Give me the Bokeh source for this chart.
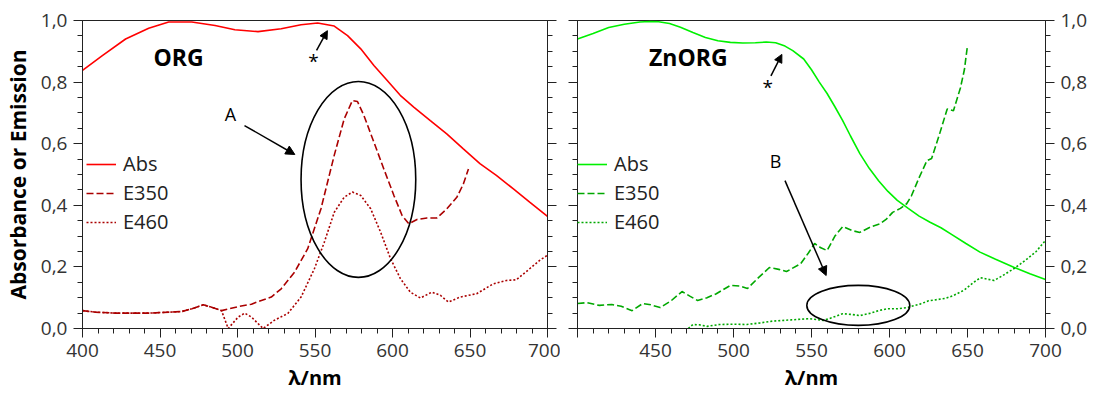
from bokeh.plotting import figure
from bokeh.layouts import row
from bokeh.models import (FixedTicker, CustomJSTickFormatter, LinearAxis, Range1d,
                          Label, Arrow, NormalHead)
from bokeh.embed import file_html
from bokeh.resources import INLINE

# ---------------- data ----------------
# ORG panel
org_abs_x = [400, 412.8, 427.8, 442.7, 455.6, 470.5, 485.5, 498.3, 513.2, 528.2, 541, 551.7,
             562.4, 571, 579.5, 588, 596.6, 605, 613.7, 624.4, 635, 645.7, 656.4, 667, 677.8,
             688.5, 700]
org_abs_y = [0.838, 0.886, 0.94, 0.975, 0.995, 0.995, 0.984, 0.97, 0.964, 0.973, 0.986, 0.992,
             0.982, 0.951, 0.908, 0.854, 0.805, 0.757, 0.719, 0.675, 0.632, 0.583, 0.535, 0.497,
             0.454, 0.41, 0.364]

org_e350_x = [400, 408.5, 421.4, 442.7, 464, 470.5, 478, 483.3, 489.7, 500.4, 509, 515.4, 521.8,
              528.2, 536.8, 545.3, 553.8, 562.4, 568.8, 574.1, 577.4, 581.6, 588, 594.4, 600.9,
              606.2, 610.5, 615.8, 622.2, 628.6, 635, 641.5, 645.7, 649]
org_e350_y = [0.058, 0.053, 0.05, 0.05, 0.055, 0.064, 0.077, 0.069, 0.058, 0.071, 0.079, 0.091,
              0.102, 0.129, 0.183, 0.259, 0.388, 0.562, 0.68, 0.74, 0.737, 0.691, 0.605, 0.518,
              0.432, 0.367, 0.34, 0.354, 0.359, 0.359, 0.388, 0.426, 0.469, 0.518]

org_e460_x = [400, 408.5, 421.4, 442.7, 464, 470.5, 478, 483.3, 489.7, 494, 500.4, 504.7, 509,
              516.5, 523.9, 532.5, 541, 549.6, 556, 562.4, 568.8, 574.1, 579.5, 585.9, 592.3,
              598.7, 605.1, 611.5, 618, 625.4, 630.8, 636.1, 643.6, 654.3, 665, 673.5, 679.9,
              688.5, 694.9, 700]
org_e460_y = [0.058, 0.053, 0.05, 0.05, 0.055, 0.064, 0.077, 0.069, 0.058, 0.0, 0.037, 0.05,
              0.037, 0.0, 0.027, 0.049, 0.102, 0.194, 0.28, 0.377, 0.426, 0.443, 0.432, 0.389,
              0.313, 0.227, 0.162, 0.118, 0.099, 0.118, 0.108, 0.086, 0.102, 0.113, 0.145,
              0.156, 0.158, 0.194, 0.221, 0.238]

# ZnORG panel
zn_abs_x = [400, 410, 420, 430, 440, 446, 452, 459, 466, 474, 482, 490, 498, 506, 514, 521,
            527, 533, 538, 545, 550, 555, 560, 565, 570, 575, 581, 587, 593, 599, 605, 612,
            619, 626, 633, 640, 649, 658, 668, 680, 690, 700]
zn_abs_y = [0.94, 0.958, 0.977, 0.988, 0.995, 0.997, 0.996, 0.99, 0.978, 0.961, 0.945, 0.934,
            0.929, 0.927, 0.928, 0.93, 0.928, 0.917, 0.902, 0.875, 0.84, 0.8, 0.763, 0.72,
            0.675, 0.625, 0.568, 0.52, 0.48, 0.445, 0.416, 0.39, 0.365, 0.345, 0.327, 0.305,
            0.276, 0.248, 0.225, 0.198, 0.178, 0.159]

zn_e350_x = [400, 406, 414, 422, 428, 435, 441.8, 447, 453, 460, 467, 472, 477, 483, 489, 498,
             504, 509, 516, 523, 529, 534, 543, 548, 552, 556, 560, 565, 570, 576, 581, 588,
             594, 598, 602, 607, 611, 614, 619, 624, 627, 632, 637, 641, 645.5, 648, 650]
zn_e350_y = [0.081, 0.084, 0.075, 0.078, 0.072, 0.058, 0.081, 0.077, 0.068, 0.09, 0.12, 0.105,
             0.091, 0.1, 0.113, 0.14, 0.138, 0.13, 0.165, 0.198, 0.192, 0.185, 0.21, 0.245,
             0.276, 0.262, 0.253, 0.3, 0.331, 0.318, 0.312, 0.33, 0.34, 0.355, 0.377, 0.39,
             0.405, 0.43, 0.49, 0.545, 0.552, 0.63, 0.713, 0.707, 0.782, 0.84, 0.919]

zn_e460_x = [471, 474, 478, 483, 491, 500, 508.6, 517, 525, 537, 549, 557.5, 563, 570, 575, 581,
             588, 593, 598.6, 605, 611.4, 620, 625, 630.7, 636, 641, 648, 654, 658.4, 663, 667,
             672, 679.6, 684, 688.5, 694, 700]
zn_e460_y = [0.0, 0.013, 0.012, 0.007, 0.013, 0.014, 0.013, 0.018, 0.024, 0.028, 0.032, 0.026,
             0.035, 0.048, 0.046, 0.042, 0.05, 0.058, 0.064, 0.064, 0.068, 0.08, 0.09, 0.094,
             0.098, 0.107, 0.125, 0.15, 0.165, 0.16, 0.156, 0.17, 0.194, 0.21, 0.227, 0.25, 0.286]

x_ticks = [400, 450, 500, 550, 600, 650, 700]
y_ticks = [0.0, 0.2, 0.4, 0.6, 0.8, 1.0]
x_title = "λ/nm"
y_title = "Absorbance or Emission"
series_names = ["Abs", "E350", "E460"]

FONT = "Open Sans"
TICK_COLOR = "#333333"
AXIS_COLOR = "#222222"

comma_fmt = CustomJSTickFormatter(code="return tick.toFixed(1).replace('.', ',');")
blank_fmt = CustomJSTickFormatter(code="return '';")


def style_axis(ax, show_labels=True, fmt=None, title_size="21px"):
    ax.axis_line_color = AXIS_COLOR
    ax.major_tick_line_color = AXIS_COLOR
    ax.minor_tick_line_color = AXIS_COLOR
    ax.major_tick_in = 0
    ax.minor_tick_in = 0
    ax.major_tick_out = 9
    ax.minor_tick_out = 5
    ax.major_label_text_font = FONT
    ax.major_label_text_font_size = "19px"
    ax.major_label_text_color = TICK_COLOR
    ax.major_label_standoff = 6
    ax.axis_label_text_font = FONT
    ax.axis_label_text_font_size = title_size
    ax.axis_label_text_font_style = "bold"
    ax.axis_label_text_color = "black"
    ax.axis_label_standoff = 6
    if fmt is not None:
        ax.formatter = fmt
    if not show_labels:
        ax.formatter = blank_fmt
        ax.major_label_standoff = 0


def make_panel(width, left_border, right_border, abs_x, abs_y, e350_x, e350_y, e460_x, e460_y,
               col_abs, col_em, title, title_x, labels_left, hide_400, legend_x):
    p = figure(width=width, height=399, output_backend="svg", toolbar_location=None,
               x_range=Range1d(400, 700), y_range=Range1d(0, 1.0),
               y_axis_location=None, x_axis_location=None)
    p.min_border_left = left_border
    p.min_border_right = right_border
    p.min_border_top = 20
    p.min_border_bottom = 71
    p.xgrid.visible = False
    p.ygrid.visible = False
    p.outline_line_color = AXIS_COLOR
    p.outline_line_width = 1
    p.background_fill_color = "white"
    p.border_fill_color = "white"

    xt = FixedTicker(ticks=x_ticks, minor_ticks=list(range(400, 701, 10)))
    yt = FixedTicker(ticks=y_ticks, minor_ticks=[i * 0.05 for i in range(21)])

    xax = LinearAxis(ticker=xt, axis_label=x_title)
    style_axis(xax, title_size="20px")
    xax.axis_label_standoff = 4
    if hide_400:
        xax.major_label_overrides = {400: ""}
    p.add_layout(xax, "below")

    yl = LinearAxis(ticker=yt, axis_label=(y_title if labels_left else None))
    style_axis(yl, show_labels=labels_left, fmt=comma_fmt)
    p.add_layout(yl, "left")

    yr = LinearAxis(ticker=yt)
    style_axis(yr, show_labels=not labels_left, fmt=comma_fmt)
    p.add_layout(yr, "right")

    p.line(abs_x, abs_y, line_color=col_abs, line_width=1.6, legend_label=series_names[0])
    p.line(e350_x, e350_y, line_color=col_em, line_width=1.6, line_dash="7 3",
           legend_label=series_names[1])
    p.line(e460_x, e460_y, line_color=col_em, line_width=1.6, line_dash="2 2",
           legend_label=series_names[2])

    lg = p.legend[0]
    lg.location = (legend_x, 93)
    lg.border_line_color = None
    lg.background_fill_alpha = 0
    lg.padding = 5
    lg.margin = 0
    lg.spacing = 2
    lg.glyph_width = 30
    lg.glyph_height = 22
    lg.label_height = 22
    lg.label_standoff = 7
    lg.label_text_font = FONT
    lg.label_text_font_size = "20px"
    lg.label_text_color = "#222222"

    p.add_layout(Label(x=title_x, y=0.883, text=title, text_font=FONT, text_font_size="23px",
                       text_font_style="bold", text_color="black",
                       text_align="center", text_baseline="middle"))
    return p


p1 = make_panel(560, 79, 13, org_abs_x, org_abs_y, org_e350_x, org_e350_y,
                org_e460_x, org_e460_y, "#FF0000", "#AA0000", "ORG", 462, True, False, 4)

p2 = make_panel(555, 17, 70, zn_abs_x, zn_abs_y, zn_e350_x, zn_e350_y,
                zn_e460_x, zn_e460_y, "#00F000", "#00A800", "ZnORG", 471, False, True, 0)

# right-side title, reading bottom to top
p2.add_layout(Label(x=700, y=0.5, x_offset=56, text=y_title, angle=90, angle_units="deg",
                    text_font=FONT, text_font_size="21px", text_font_style="bold",
                    text_color="black", text_align="center", text_baseline="middle"))

# annotations: ORG panel
p1.ellipse(x=[578], y=[0.484], width=74, height=0.636, fill_color=None,
           line_color="black", line_width=1.6)
p1.add_layout(Arrow(end=NormalHead(size=9, fill_color="black", line_color="black"),
                    x_start=504.5, y_start=0.659, x_end=537, y_end=0.565,
                    line_color="black", line_width=1.5))
p1.add_layout(Label(x=495.5, y=0.698, text="A", text_font=FONT, text_font_size="18px",
                    text_align="center", text_baseline="middle", text_color="black"))
p1.add_layout(Arrow(end=NormalHead(size=8, fill_color="black", line_color="black"),
                    x_start=551, y_start=0.903, x_end=558, y_end=0.967,
                    line_color="black", line_width=1.5))
p1.add_layout(Label(x=549, y=0.87, text="*", text_font=FONT, text_font_size="19px",
                    text_align="center", text_baseline="middle", text_color="black"))

# annotations: ZnORG panel
p2.ellipse(x=[580], y=[0.075], width=66, height=0.13, fill_color=None,
           line_color="black", line_width=1.6)
p2.add_layout(Arrow(end=NormalHead(size=9, fill_color="black", line_color="black"),
                    x_start=533, y_start=0.48, x_end=559.4, y_end=0.172,
                    line_color="black", line_width=1.5))
p2.add_layout(Label(x=527, y=0.545, text="B", text_font=FONT, text_font_size="18px",
                    text_align="center", text_baseline="middle", text_color="black"))
p2.add_layout(Arrow(end=NormalHead(size=8, fill_color="black", line_color="black"),
                    x_start=524, y_start=0.82, x_end=531, y_end=0.89,
                    line_color="black", line_width=1.5))
p2.add_layout(Label(x=522, y=0.785, text="*", text_font=FONT, text_font_size="19px",
                    text_align="center", text_baseline="middle", text_color="black"))

layout = row(p1, p2)
open("out.html", "w").write(file_html(layout, INLINE))
